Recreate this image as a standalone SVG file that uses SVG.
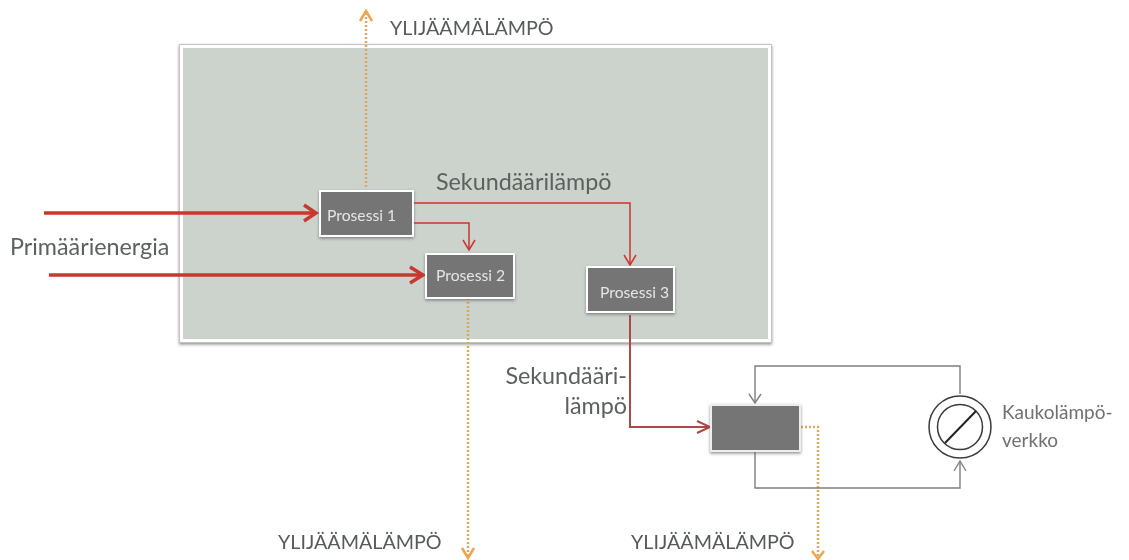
<svg xmlns="http://www.w3.org/2000/svg" width="1129" height="560" viewBox="0 0 1129 560">
<style>
text{font-family:Lato,"Open Sans","Liberation Sans",sans-serif}
.lbl{fill:#565a58;font-size:19.7px}
.big{fill:#5c615e;font-size:23.3px}
.w{fill:#e6e6e6;font-size:15.7px}
.net{fill:#707070;font-size:19px}
.proc{fill:#757575;stroke:#fff;stroke-width:2;filter:url(#s)}
.red{fill:none;stroke:#c8372d;stroke-width:1.5}
.thick{fill:none;stroke:#c8372d;stroke-width:3.5}
.brown{fill:none;stroke:#aa4a48;stroke-width:2}
.grey{fill:none;stroke:#7f7f7f;stroke-width:1.4}
.or{fill:none;stroke:#dca666;stroke-width:2.5;stroke-dasharray:2 2}
.head-or{fill:none;stroke:#eda64f;stroke-width:2.5}
</style>
<defs>
<filter id="s" x="-10%" y="-10%" width="120%" height="125%"><feDropShadow dx="0" dy="1.5" stdDeviation="1.5" flood-color="#555" flood-opacity=".65"/></filter>
<filter id="soft" filterUnits="userSpaceOnUse" x="0" y="0" width="1129" height="560"><feGaussianBlur stdDeviation="0.6"/></filter>
</defs>
<g filter="url(#soft)">
<rect width="1129" height="560" fill="#fff"/>
<rect id="container" x="181" y="46" width="589" height="295" fill="#ccd3cd" stroke="#fff" stroke-width="4" filter="url(#s)"/>
<rect x="179.5" y="44.5" width="592" height="298" fill="none" stroke="#c4c4c4" stroke-width="1"/>
<g id="connectors">
<path class="or" d="M366 187V14"/>
<path class="head-or" d="M360 21L366 11L372 21"/>
<path class="or" d="M468 298V556"/>
<path class="head-or" d="M462 548L468 558L474 548"/>
<path class="or" d="M801 427H818V556"/>
<path class="head-or" d="M812 551L818 559L824 551"/>
<path class="thick" d="M44 213H314"/>
<path class="thick" d="M304 205L316 213L304 221"/>
<path class="thick" d="M49 275H422"/>
<path class="thick" d="M410 267L423 275L410 283"/>
<path class="red" d="M414 203H630V264"/>
<path class="red" d="M624 255L630 265L636 255"/>
<path class="red" d="M414 223H469V249"/>
<path class="red" d="M463 240L469 250L475 240"/>
<path class="brown" d="M630 315V427H708"/>
<path class="brown" d="M697 421L710 427L697 433" stroke-width="1.5"/>
<path class="grey" d="M960 394V366H755V403"/>
<path class="grey" d="M749 394L755 403L761 394"/>
<path class="grey" d="M755 452V488H960V462"/>
<path class="grey" d="M954 471L960 461L966 471"/>
</g>
<g id="proses1"><rect class="proc" x="320" y="191" width="93" height="45"/><text class="w" x="327" y="221">Prosessi 1</text></g>
<g id="proses2"><rect class="proc" x="426" y="254" width="88" height="44"/><text class="w" x="436" y="281">Prosessi 2</text></g>
<g id="proses3"><rect class="proc" x="587" y="267" width="87" height="45"/><text class="w" x="600" y="298">Prosessi 3</text></g>
<g id="exchanger"><rect x="711" y="405" width="89" height="46" fill="#757575" stroke="#eee" stroke-width="2" filter="url(#s)"/></g>
<g id="network">
<circle cx="960" cy="427" r="31" fill="#fff" stroke="#3a3a3a" stroke-width="1.5"/>
<circle cx="960" cy="427" r="22.5" fill="#fff" stroke="#3a3a3a" stroke-width="1.5"/>
<path d="M945 443L976 411" stroke="#222" stroke-width="2" fill="none"/>
<text class="net" x="1002" y="419">Kaukolämpö-</text>
<text class="net" x="1002" y="447">verkko</text>
</g>
<g id="labels">
<text class="lbl" x="390" y="35">YLIJÄÄMÄLÄMPÖ</text>
<text class="lbl" x="278" y="549">YLIJÄÄMÄLÄMPÖ</text>
<text class="lbl" x="631" y="549">YLIJÄÄMÄLÄMPÖ</text>
<text class="big" x="436" y="190">Sekundäärilämpö</text>
<text class="big" x="10" y="255">Primäärienergia</text>
<text class="big" x="627" y="384" text-anchor="end">Sekundääri-</text>
<text class="big" x="627" y="414" text-anchor="end">lämpö</text>
</g>
</g>
</svg>
